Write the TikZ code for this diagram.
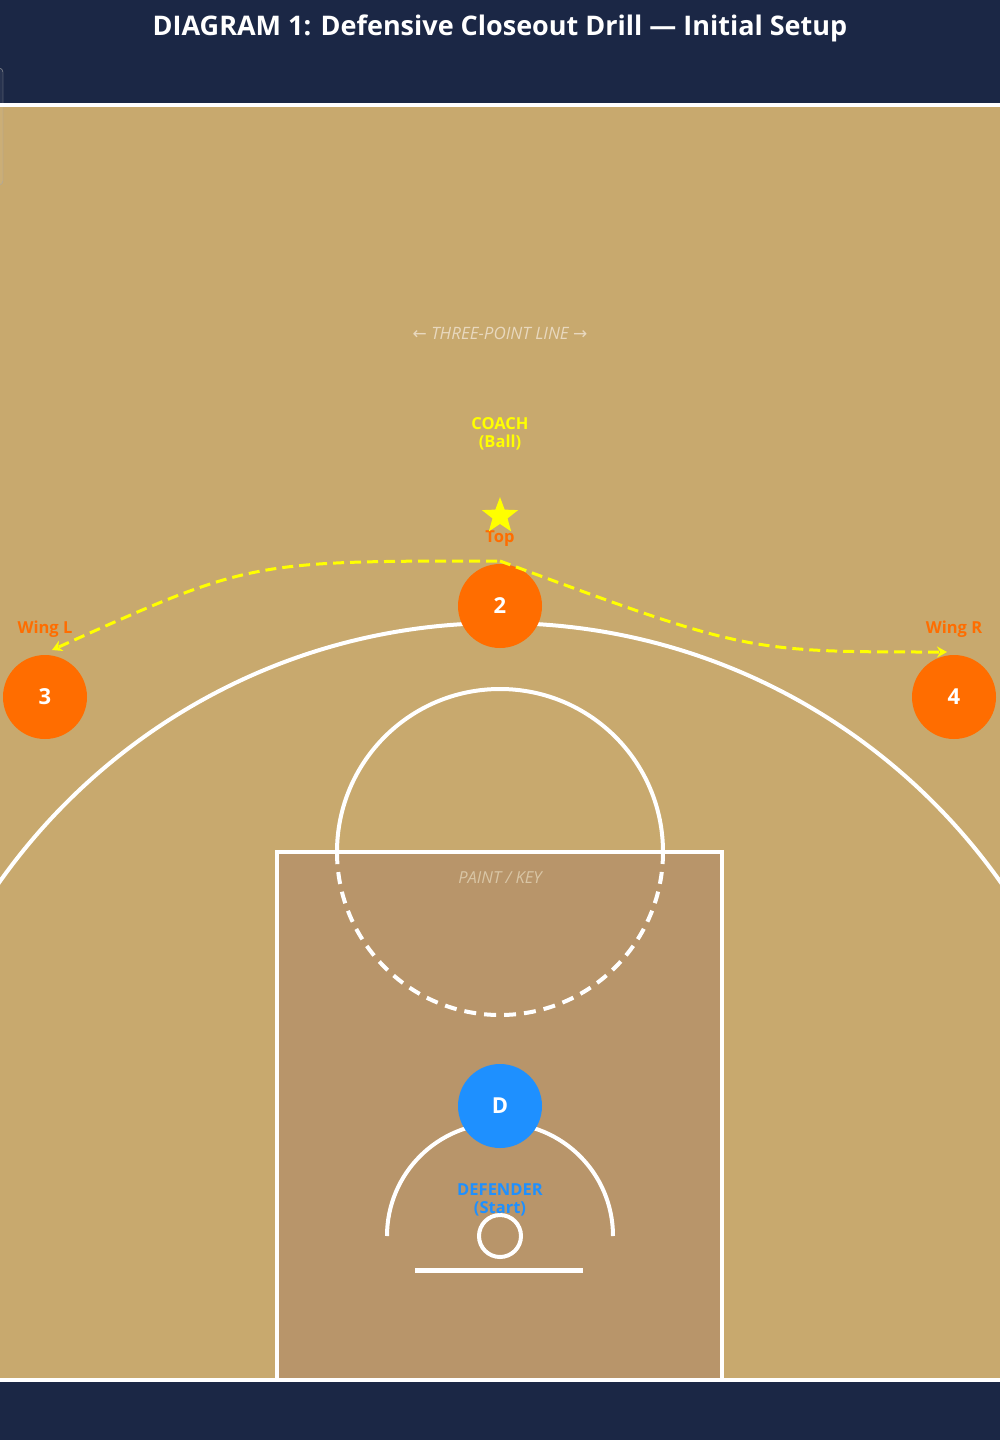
\documentclass[tikz,border=0pt]{standalone}
\usepackage{fontspec}
\setmainfont{Open Sans}
\newfontfamily\arrowfont{DejaVu Sans}
\usetikzlibrary{shapes.geometric,arrows.meta}

\definecolor{navy}{HTML}{1B2745}
\definecolor{court}{HTML}{C8A96E}
\definecolor{paint}{HTML}{B8956A}
\definecolor{offense}{HTML}{FF6D00}
\definecolor{defense}{HTML}{1E90FF}
\definecolor{ballyellow}{HTML}{FFFF00}
\definecolor{linelabel}{HTML}{E8D8BE}
\definecolor{keylabel}{HTML}{D9C6A6}

\begin{document}
\begin{tikzpicture}[x=1pt,y=-1pt,
	player/.style={circle,fill=offense,minimum size=84pt,inner sep=0pt,text=white,font=\fontsize{22}{26}\selectfont\bfseries},
	spot/.style={text=offense,font=\fontsize{16.5}{19}\selectfont\bfseries},
	courtline/.style={white,line width=4pt},
	pass/.style={ballyellow,line width=3pt,dash pattern=on 11pt off 6pt,arrows={-Stealth[length=10pt,width=11pt]}}]
	\useasboundingbox (0,0) rectangle (1000,1440);
	\fill[navy] (0,0) rectangle (1000,1440);
	\fill[court] (0,106) rectangle (1000,1379);
	\draw[draw=gray!70,rounded corners=4pt,fill=white,fill opacity=0.06] (-20,68) rectangle (3,185);
	\node[white,font=\fontsize{27}{32}\selectfont\bfseries] (title) at (500,28) {DIAGRAM 1: Defensive Closeout Drill --- Initial Setup};
	% paint
	\fill[paint] (277,852) rectangle (722,1379);
	\draw[courtline] (277,1379) -- (277,852) -- (722,852) -- (722,1379);
	\node[keylabel,font=\fontsize{16.5}{19}\selectfont\itshape] (key) at (500,878) {PAINT / KEY};
	% free throw circle
	\draw[courtline] (663,852) arc (0:-180:163);
	\draw[courtline,dash pattern=on 12pt off 8pt] (663,852) arc (0:180:163);
	% three point arc
	\begin{scope}
		\clip (0,106) rectangle (1000,1379);
		\draw[courtline] (500,1236) circle (613);
	\end{scope}
	\node[linelabel,font=\fontsize{17}{20}\selectfont\itshape] (threelabel) at (500,333) {{\arrowfont←} THREE-POINT LINE {\arrowfont→}};
	% basket
	\draw[courtline] (613,1236) arc (0:-180:113);
	\draw[courtline] (500,1236) circle (21);
	\draw[white,line width=5pt] (415,1270) -- (583,1270);
	\draw[white,line width=4pt] (0,105) -- (1000,105);
	\draw[white,line width=4pt] (0,1379.5) -- (1000,1379.5);
	% players
	\node[player] (p2) at (500,606) {2};
	\node[player] (p3) at (45,697) {3};
	\node[player] (p4) at (954,697) {4};
	\node[player,fill=defense] (def) at (500,1106) {D};
	\node[spot] (top) at (500,539) {Top};
	\node[spot] (wingL) at (45,629) {Wing L};
	\node[spot] (wingR) at (954,629) {Wing R};
	\node[text=defense,align=center,font=\fontsize{16.5}{18.5}\selectfont\bfseries] (deflabel) at (500,1200) {DEFENDER\\(Start)};
	% coach
	\node[star,star points=5,star point ratio=2.4,fill=ballyellow,minimum size=38pt,inner sep=0pt] (coach) at (500,516) {};
	\node[text=ballyellow,align=center,font=\fontsize{16.5}{18.5}\selectfont\bfseries] (coachlabel) at (500,434) {COACH\\(Ball)};
	\coordinate (passL) at (497,561);
	\coordinate (passR) at (500,561);
	\coordinate (endL) at (52,650);
	\coordinate (endR) at (947,652);
	\draw[pass] (passL) .. controls (250,561) .. (endL);
	\draw[pass] (passR) .. controls (746,652) .. (endR);
\end{tikzpicture}
\end{document}
